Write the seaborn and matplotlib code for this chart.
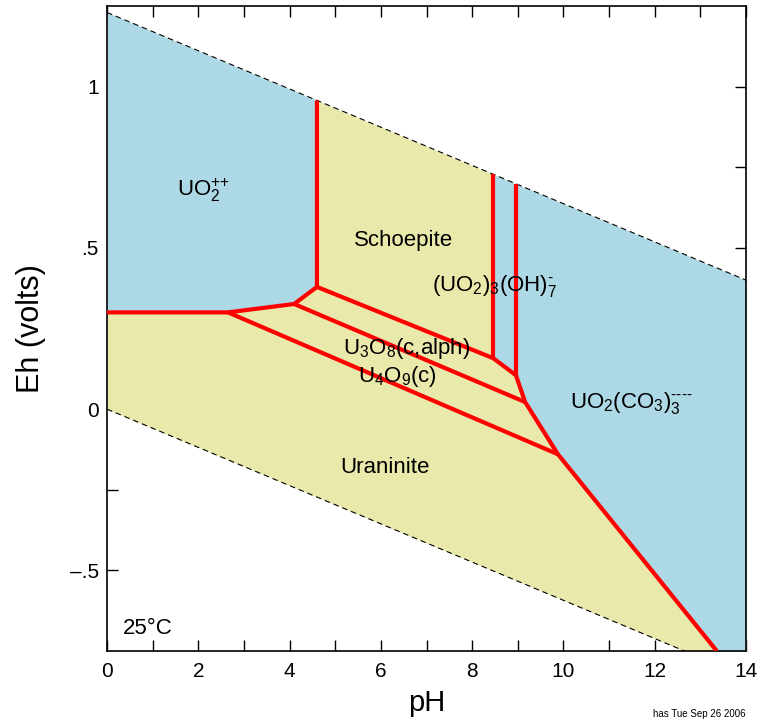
import numpy as np
import pandas as pd
import matplotlib
matplotlib.use("Agg")
import matplotlib.pyplot as plt
import seaborn as sns

# ---- data ----
# water stability limits (straight lines)
wl_pH = [0.0, 14.0]
wl_upper = [1.23, 0.40]
wl_lower = [0.0, -0.83]

# UO2++ / solid boundary
b1_pH = [0.0, 2.65, 4.10, 4.60, 4.60]
b1_Eh = [0.30, 0.30, 0.326, 0.379, 0.957]
# Schoepite / U3O8 / aqueous boundary continuing down to uraninite / carbonate
b2_pH = [4.60, 8.46, 8.96, 9.16, 9.88, 13.36]
b2_Eh = [0.379, 0.158, 0.105, 0.022, -0.140, -0.75]
# Schoepite / (UO2)3(OH)7- vertical
b3_pH = [8.46, 8.46]
b3_Eh = [0.158, 0.728]
# (UO2)3(OH)7- / UO2(CO3)3---- vertical
b4_pH = [8.96, 8.96]
b4_Eh = [0.105, 0.698]
# U3O8 / U4O9
b5_pH = [4.10, 9.16]
b5_Eh = [0.326, 0.022]
# U4O9 / Uraninite
b6_pH = [2.65, 9.88]
b6_Eh = [0.30, -0.140]

# aqueous (blue) field lower limits
aq1_pH = [0.0, 2.65, 4.10, 4.60]
aq1_Eh = [0.30, 0.30, 0.326, 0.379]
aq2_pH = [8.46, 8.96, 9.16, 9.88, 13.36, 14.0]
aq2_Eh = [0.158, 0.105, 0.022, -0.140, -0.75, -0.75]

x_ticks = list(range(0, 15))
x_ticklabels = [str(v) if v % 2 == 0 else "" for v in x_ticks]
y_ticks = [-0.5, -0.25, 0.0, 0.25, 0.5, 0.75, 1.0]
y_ticklabels = ["\u2013.5", "", "0", "", ".5", "", "1"]

labels = [
    (r"UO$_2^{\text{++}}$", 1.53, 0.66),
    ("Schoepite", 5.40, 0.505),
    (r"(UO$_2$)$_3$(OH)$_7^{\text{-}}$", 7.12, 0.366),
    ("U$_3$O$_8$(c,alph)", 5.17, 0.171),
    ("U$_4$O$_9$(c)", 5.50, 0.084),
    (r"UO$_2$(CO$_3$)$_3^{\text{----}}$", 10.15, 0.005),
    ("Uraninite", 5.10, -0.198),
    ("25\u00b0C", 0.35, -0.698),
]

# ---- style ----
sns.set_theme(style="ticks")
plt.rcParams["font.family"] = ["Liberation Sans", "DejaVu Sans"]
plt.rcParams["mathtext.fontset"] = "custom"
plt.rcParams["mathtext.rm"] = "Liberation Sans"
plt.rcParams["mathtext.it"] = "Liberation Sans:italic"
plt.rcParams["mathtext.bf"] = "Liberation Sans:bold"
plt.rcParams["text.color"] = "black"
plt.rcParams["axes.labelcolor"] = "black"

BLUE = "#add8e6"
YELLOW = "#e9e9ab"

fig = plt.figure(figsize=(7.59, 7.22), dpi=100)
ax = fig.add_axes([107 / 759, 1 - 651 / 722, (746 - 107) / 759, (651 - 6) / 722])

# fields
ax.fill_between(wl_pH, wl_lower, wl_upper, color=YELLOW, lw=0, zorder=1)
ax.fill_between(aq1_pH, aq1_Eh, np.interp(aq1_pH, wl_pH, wl_upper),
                color=BLUE, lw=0, zorder=2)
ax.fill_between(aq2_pH, aq2_Eh, np.interp(aq2_pH, wl_pH, wl_upper),
                color=BLUE, lw=0, zorder=2)

# water limits
water = pd.DataFrame({
    "pH": wl_pH + wl_pH,
    "Eh": wl_upper + wl_lower,
    "seg": ["up", "up", "lo", "lo"],
})
sns.lineplot(data=water, x="pH", y="Eh", units="seg", estimator=None, sort=False,
             color="black", lw=0.8, dashes=False, ax=ax, zorder=3)
for ln in ax.lines:
    ln.set_dashes((5, 3.5))

# boundaries
segs = [(b1_pH, b1_Eh), (b2_pH, b2_Eh), (b3_pH, b3_Eh), (b4_pH, b4_Eh),
        (b5_pH, b5_Eh), (b6_pH, b6_Eh)]
rows = []
for i, (xs, ys) in enumerate(segs):
    for j, (xv, yv) in enumerate(zip(xs, ys)):
        rows.append({"pH": xv, "Eh": yv, "seg": i, "order": j})
bdf = pd.DataFrame(rows)
n_before = len(ax.lines)
sns.lineplot(data=bdf, x="pH", y="Eh", units="seg", estimator=None, sort=False,
             color="red", lw=3.0, ax=ax, zorder=4)
for ln in ax.lines[n_before:]:
    ln.set_solid_joinstyle("miter")
    ln.set_solid_capstyle("butt")

for txt, xv, yv in labels:
    ax.text(xv, yv, txt, fontsize=16, ha="left", va="baseline", zorder=5,
            color="black")

ax.set_xlim(0, 14)
ax.set_ylim(-0.75, 1.25)
ax.set_xticks(x_ticks)
ax.set_xticklabels(x_ticklabels)
ax.set_yticks(y_ticks)
ax.set_yticklabels(y_ticklabels)
ax.tick_params(direction="in", length=8, width=1, top=True, right=True,
               labelsize=15, colors="black")
ax.tick_params(axis="x", pad=8)
ax.tick_params(axis="y", pad=6)
for sp in ax.spines.values():
    sp.set_visible(True)
    sp.set_linewidth(1.2)
    sp.set_color("black")

ax.set_xlabel("pH", fontsize=21, labelpad=6)
ax.set_ylabel("Eh (volts)", fontsize=22, labelpad=17)

fig.text(746 / 759, 0.004, "has Tue Sep 26 2006", fontsize=7, ha="right",
         va="bottom", color="black")

fig.savefig("out.png", dpi=100)
